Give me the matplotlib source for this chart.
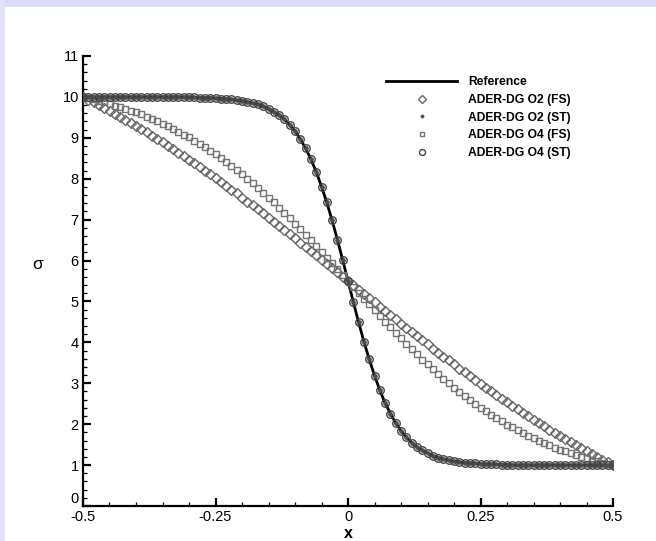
import matplotlib
matplotlib.use("Agg")
import matplotlib.pyplot as plt
from matplotlib.patches import Rectangle
from matplotlib.ticker import MultipleLocator

# x positions of the sampled points
x_vals = [-0.50, -0.49, -0.48, -0.47, -0.46, -0.45, -0.44, -0.43, -0.42, -0.41,
          -0.40, -0.39, -0.38, -0.37, -0.36, -0.35, -0.34, -0.33, -0.32, -0.31,
          -0.30, -0.29, -0.28, -0.27, -0.26, -0.25, -0.24, -0.23, -0.22, -0.21,
          -0.20, -0.19, -0.18, -0.17, -0.16, -0.15, -0.14, -0.13, -0.12, -0.11,
          -0.10, -0.09, -0.08, -0.07, -0.06, -0.05, -0.04, -0.03, -0.02, -0.01,
          0.00,
          0.01, 0.02, 0.03, 0.04, 0.05, 0.06, 0.07, 0.08, 0.09, 0.10,
          0.11, 0.12, 0.13, 0.14, 0.15, 0.16, 0.17, 0.18, 0.19, 0.20,
          0.21, 0.22, 0.23, 0.24, 0.25, 0.26, 0.27, 0.28, 0.29, 0.30,
          0.31, 0.32, 0.33, 0.34, 0.35, 0.36, 0.37, 0.38, 0.39, 0.40,
          0.41, 0.42, 0.43, 0.44, 0.45, 0.46, 0.47, 0.48, 0.49, 0.50]

# reference solution
sigma_ref = [10.0, 10.0, 10.0, 10.0, 10.0, 10.0, 10.0, 10.0, 10.0, 10.0,
             10.0, 10.0, 10.0, 10.0, 10.0, 10.0, 10.0, 10.0, 10.0, 10.0,
             9.99, 9.99, 9.98, 9.98, 9.98, 9.97, 9.96, 9.95, 9.94, 9.92,
             9.91, 9.88, 9.85, 9.82, 9.77, 9.71, 9.64, 9.56, 9.45, 9.32,
             9.16, 8.97, 8.74, 8.48, 8.17, 7.81, 7.42, 6.98, 6.51, 6.01,
             5.50,
             4.99, 4.49, 4.02, 3.59, 3.19, 2.83, 2.52, 2.26, 2.03, 1.84,
             1.68, 1.55, 1.44, 1.36, 1.29, 1.23, 1.18, 1.15, 1.12, 1.09,
             1.08, 1.06, 1.05, 1.04, 1.03, 1.02, 1.02, 1.02, 1.01, 1.01,
             1.00, 1.00, 1.00, 1.00, 1.00, 1.00, 1.00, 1.00, 1.00, 1.00,
             1.00, 1.00, 1.00, 1.00, 1.00, 1.00, 1.00, 1.00, 1.00, 1.00]

# ADER-DG O2, flux splitting (most diffusive)
sigma_o2_fs = [10.0, 9.93, 9.87, 9.80, 9.73, 9.66, 9.59, 9.51, 9.44, 9.36,
               9.29, 9.21, 9.13, 9.05, 8.97, 8.89, 8.81, 8.72, 8.64, 8.55,
               8.46, 8.38, 8.29, 8.20, 8.11, 8.01, 7.92, 7.83, 7.73, 7.64,
               7.54, 7.44, 7.35, 7.25, 7.15, 7.05, 6.95, 6.85, 6.75, 6.64,
               6.54, 6.44, 6.33, 6.23, 6.13, 6.02, 5.92, 5.81, 5.71, 5.60,
               5.50,
               5.40, 5.29, 5.19, 5.08, 4.98, 4.87, 4.77, 4.67, 4.56, 4.46,
               4.36, 4.25, 4.15, 4.05, 3.95, 3.85, 3.75, 3.65, 3.56, 3.46,
               3.36, 3.27, 3.17, 3.08, 2.99, 2.89, 2.80, 2.71, 2.62, 2.54,
               2.45, 2.36, 2.28, 2.19, 2.11, 2.03, 1.95, 1.87, 1.79, 1.71,
               1.64, 1.56, 1.49, 1.41, 1.34, 1.27, 1.20, 1.13, 1.07, 1.00]

# ADER-DG O4, flux splitting
sigma_o4_fs = [10.0, 9.97, 9.94, 9.90, 9.87, 9.83, 9.79, 9.75, 9.71, 9.66,
               9.62, 9.57, 9.51, 9.46, 9.40, 9.34, 9.28, 9.22, 9.15, 9.08,
               9.01, 8.93, 8.85, 8.77, 8.68, 8.60, 8.50, 8.41, 8.31, 8.21,
               8.11, 8.00, 7.89, 7.78, 7.66, 7.54, 7.42, 7.29, 7.17, 7.04,
               6.90, 6.77, 6.63, 6.50, 6.36, 6.22, 6.07, 5.93, 5.79, 5.64,
               5.50,
               5.36, 5.21, 5.07, 4.93, 4.78, 4.64, 4.50, 4.37, 4.23, 4.10,
               3.96, 3.83, 3.71, 3.58, 3.46, 3.34, 3.22, 3.11, 3.00, 2.89,
               2.79, 2.69, 2.59, 2.50, 2.40, 2.32, 2.23, 2.15, 2.07, 1.99,
               1.92, 1.85, 1.78, 1.72, 1.66, 1.60, 1.54, 1.49, 1.43, 1.38,
               1.34, 1.29, 1.25, 1.21, 1.17, 1.13, 1.10, 1.06, 1.03, 1.00]

# space-time versions sit on top of the reference
sigma_o2_st = list(sigma_ref)
sigma_o4_st = list(sigma_ref)

x_ticks = [-0.5, -0.25, 0, 0.25, 0.5]
x_tick_labels = ["-0.5", "-0.25", "0", "0.25", "0.5"]
y_ticks = list(range(0, 12))

plt.rcParams["font.family"] = ["Liberation Sans", "DejaVu Sans"]

fig = plt.figure(figsize=(6.56, 5.41), dpi=100, facecolor="white")
# lavender frame at top and left
fig.patches.append(Rectangle((0, 1 - 7 / 541), 1, 7 / 541, transform=fig.transFigure,
                             facecolor="#dcdcf7", edgecolor="none", zorder=0))
fig.patches.append(Rectangle((0, 0), 5 / 656, 1, transform=fig.transFigure,
                             facecolor="#e2e2f9", edgecolor="none", zorder=0))

ax = fig.add_axes([83 / 656, 35 / 541, 530 / 656, 450 / 541])

ax.plot(x_vals, sigma_ref, color="black", lw=2.0, label="Reference", zorder=3)
ax.plot(x_vals, sigma_o2_fs, ls="none", marker="D", ms=4.6, mfc="none",
        mec="#666666", mew=1.0, label="ADER-DG O2 (FS)", zorder=4)
ax.plot(x_vals, sigma_o2_st, ls="none", marker="o", ms=2.8, mfc="#4d4d4d",
        mec="#4d4d4d", mew=0.5, label="ADER-DG O2 (ST)", zorder=5)
ax.plot(x_vals, sigma_o4_fs, ls="none", marker="s", ms=4.3, mfc="none",
        mec="#737373", mew=1.0, label="ADER-DG O4 (FS)", zorder=4)
ax.plot(x_vals, sigma_o4_st, ls="none", marker="o", ms=5.4, mfc="none",
        mec="#444444", mew=1.0, label="ADER-DG O4 (ST)", zorder=5)

ax.set_xlim(-0.5, 0.5)
ax.set_ylim(0, 11)
ax.set_xticks(x_ticks, x_tick_labels)
ax.set_yticks(y_ticks)
ax.xaxis.set_minor_locator(MultipleLocator(0.05))
ax.yaxis.set_minor_locator(MultipleLocator(0.2))

for side in ["top", "right"]:
    ax.spines[side].set_visible(False)
for side in ["left", "bottom"]:
    ax.spines[side].set_linewidth(1.6)

ax.tick_params(which="major", direction="in", length=6, width=1.6,
               labelsize=10.5, pad=3)
ax.tick_params(which="minor", direction="in", length=3, width=0.9)

# the y "0" sits a little above the x "-0.5", as in the original
ax.get_yticklabels()[0].set_verticalalignment("bottom")

ax.set_xlabel("x", fontsize=11.5, fontweight="bold")
ax.set_ylabel("σ", fontsize=12.5, rotation=0)
ax.xaxis.set_label_coords(0.5, -0.045)
ax.yaxis.set_label_coords(-0.085, 0.52)

leg = ax.legend(loc="upper left", bbox_to_anchor=(380 / 656, 1 - 70 / 541),
                bbox_transform=fig.transFigure, frameon=False, borderpad=0,
                handlelength=5.9, handletextpad=0.9, labelspacing=0.48,
                markerscale=0.8, numpoints=1,
                prop={"weight": "bold", "size": 8.7})

fig.savefig("out.png", dpi=100, facecolor=fig.get_facecolor())
